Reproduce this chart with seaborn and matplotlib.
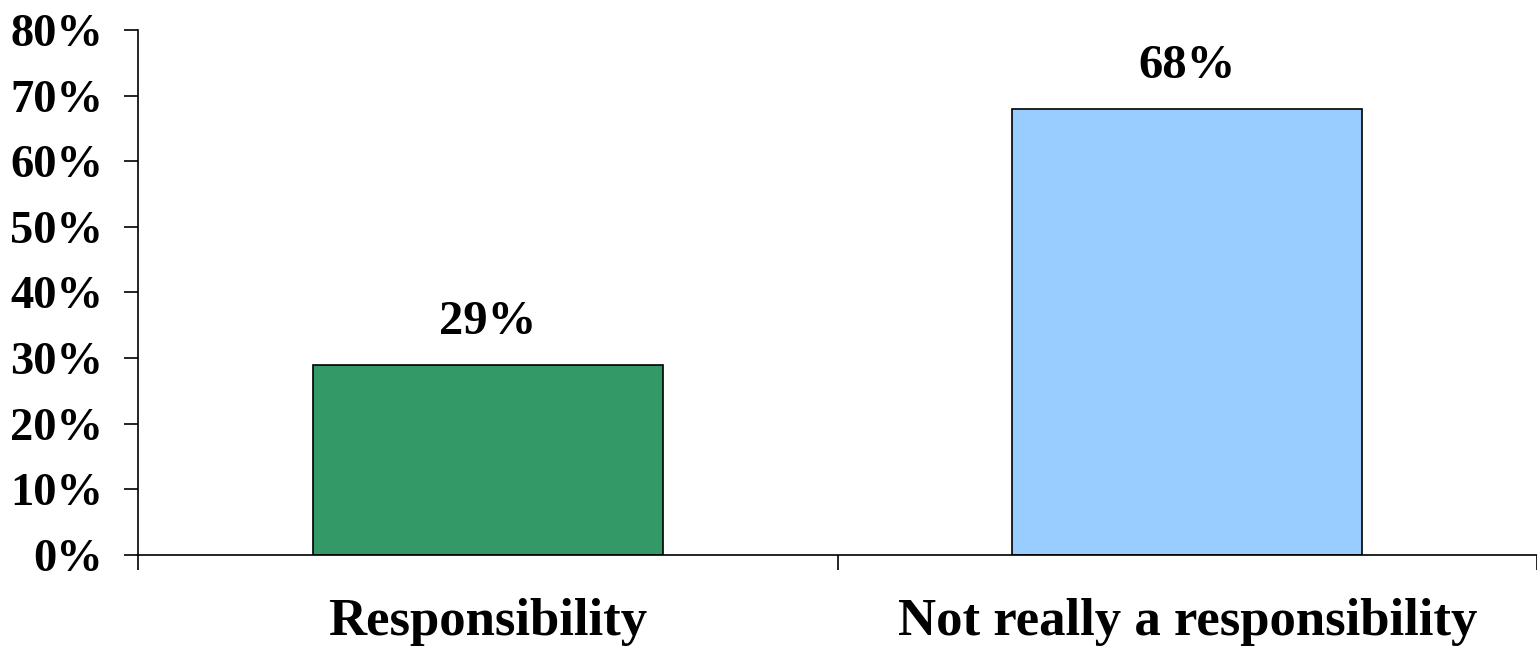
import matplotlib
matplotlib.use("Agg")
import matplotlib.pyplot as plt
import seaborn as sns
import pandas as pd
from matplotlib.ticker import FixedLocator, PercentFormatter

categories = ["Responsibility", "Not really a responsibility"]
values = [29, 68]
colors = ["#339966", "#99CCFF"]
yticks = [0, 10, 20, 30, 40, 50, 60, 70, 80]

sns.set_theme(style="white")
plt.rcParams['font.family'] = ['Liberation Serif', 'DejaVu Serif']
plt.rcParams['font.weight'] = 'bold'
plt.rcParams['text.color'] = 'black'
plt.rcParams['xtick.color'] = 'black'
plt.rcParams['ytick.color'] = 'black'
plt.rcParams['xtick.labelcolor'] = 'black'
plt.rcParams['ytick.labelcolor'] = 'black'

df = pd.DataFrame({"cat": categories, "val": values})

fig = plt.figure(figsize=(15.37, 6.51), dpi=100)
ax = fig.add_axes([0.0898, 0.1475, 0.9102, 0.8065])

sns.barplot(data=df, x="cat", y="val", hue="cat", palette=colors, legend=False,
            width=0.5, edgecolor="black", linewidth=1.2, saturation=1, ax=ax)

ax.set_xlim(-0.5, 1.5)
ax.set_ylim(0, 80)
ax.set_yticks(yticks)
ax.yaxis.set_major_formatter(PercentFormatter(decimals=0))
ax.set_xlabel("")
ax.set_ylabel("")

for s in ["top", "right"]:
    ax.spines[s].set_visible(False)
for s in ["left", "bottom"]:
    ax.spines[s].set_color("black")
    ax.spines[s].set_linewidth(1.2)

ax.tick_params(axis="y", direction="out", length=10, width=1.2, color="black",
               pad=15, labelsize=33.5, left=True, labelcolor="black")
ax.tick_params(axis="x", which="major", length=0, pad=31, labelsize=38,
               labelcolor="black")
ax.xaxis.set_minor_locator(FixedLocator([-0.5, 0.5, 1.5]))
ax.tick_params(axis="x", which="minor", direction="out", length=11, width=1.2,
               color="black", bottom=True)
for lab in ax.get_xticklabels() + ax.get_yticklabels():
    lab.set_fontweight("bold")

for i, v in enumerate(values):
    ax.text(i, v + 3.2, f"{v}%", ha="center", va="bottom", fontsize=35,
            fontweight="bold", color="black")

fig.savefig("out.png", dpi=100, facecolor="white")
